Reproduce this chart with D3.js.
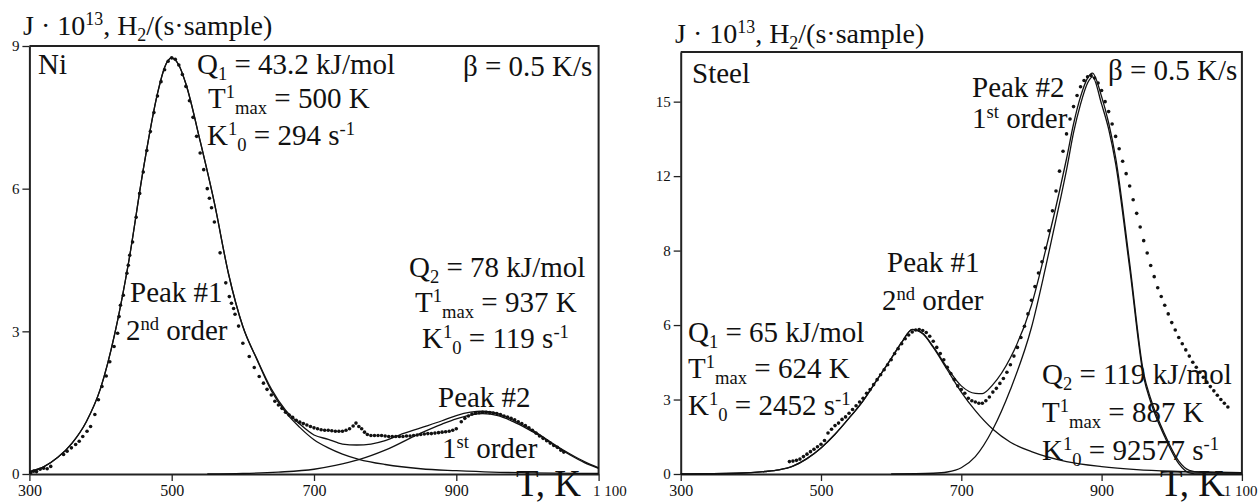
<!DOCTYPE html>
<html><head><meta charset="utf-8">
<script src="https://cdn.jsdelivr.net/npm/d3@7/dist/d3.min.js"></script>
<style>
body{margin:0;background:#fff}
svg{display:block}
</style>
</head><body><svg id="c" width="1258" height="503"></svg>
<script>
// ---------- data ----------
const xTicks = [300, 500, 700, 900, 1100];
const xTickLabels = ["300", "500", "700", "900", "1 100"];
const niYTicks = [0, 3, 6, 9];
const niYTickLabels = ["0", "3", "6", "9"];
const stYTicks = [0, 3, 6, 9, 12, 15];
const stYTickLabels = ["0", "3", "6", "8", "12", "15"];

// Ni panel: fitted peaks, their sum, experimental points  [T (K), J]
const niPeak1 = [[300,0.05],[320,0.15],[340,0.35],[360,0.65],[380,1.1],[400,1.8],[420,2.95],[440,4.5],[460,6.4],[480,8.0],[490,8.55],[500,8.75],[510,8.6],[520,8.2],[540,7.0],[560,5.7],[580,4.2],[600,3.1],[620,2.4],[640,1.75],[660,1.3],[680,0.98],[700,0.72],[720,0.55],[740,0.42],[763,0.31],[800,0.2],[850,0.11],[900,0.07],[950,0.04],[1000,0.025],[1100,0.01]];
const niPeak2 = [[550,0],[600,0.01],[650,0.04],[700,0.1],[730,0.18],[763,0.30],[800,0.5],[850,0.86],[880,1.05],[900,1.16],[920,1.24],[937,1.27],[960,1.22],[980,1.1],[1000,0.95],[1020,0.78],[1040,0.58],[1060,0.4],[1080,0.24],[1100,0.12]];
const niSum = [[300,0.05],[320,0.15],[340,0.35],[360,0.65],[380,1.1],[400,1.8],[420,2.95],[440,4.5],[460,6.4],[480,8.0],[490,8.55],[500,8.75],[510,8.6],[520,8.2],[540,7.0],[560,5.7],[580,4.2],[600,3.1],[620,2.41],[640,1.79],[660,1.34],[680,1.05],[700,0.82],[720,0.73],[740,0.63],[760,0.61],[780,0.63],[800,0.7],[820,0.82],[850,0.97],[880,1.12],[900,1.23],[920,1.3],[937,1.32],[960,1.26],[980,1.13],[1000,0.98],[1020,0.8],[1040,0.6],[1060,0.42],[1080,0.26],[1100,0.13]];
const niPoints = [[302,0.03],[306,0.06],[310,0.05],[315,0.1],[320,0.12],[325,0.11],[330,0.16],[348,0.41],[353,0.48],[359,0.55],[365,0.62],[370,0.69],[375,0.79],[381,0.9],[386,1.0],[392,1.25],[397,1.56],[402,1.84],[408,2.06],[413,2.36],[419,2.68],[424,2.96],[426,3.31],[428,3.55],[432,3.76],[437,4.22],[439,4.39],[441,4.6],[445,4.88],[450,5.4],[455,5.9],[460,6.35],[465,6.8],[470,7.2],[475,7.6],[480,7.95],[485,8.25],[490,8.5],[495,8.68],[500,8.75],[505,8.72],[510,8.6],[515,8.4],[520,8.15],[525,7.85],[530,7.5],[535,7.1],[540,6.75],[545,6.4],[550,6.0],[553,5.8],[556,5.6],[560,5.3],[568,4.65],[576,4.02],[581,3.73],[584,3.59],[587,3.48],[589,3.36],[594,3.11],[600,2.75],[609,2.47],[616,2.24],[623,2.05],[629,1.91],[634,1.78],[640,1.66],[645,1.53],[650,1.45],[655,1.38],[660,1.3],[665,1.24],[670,1.19],[675,1.13],[680,1.09],[685,1.06],[690,1.03],[695,1.0],[700,0.97],[705,0.95],[710,0.93],[715,0.92],[720,0.92],[725,0.91],[730,0.9],[735,0.9],[740,0.9],[745,0.92],[750,0.95],[755,1.01],[759,1.07],[763,1.0],[767,0.95],[771,0.88],[775,0.83],[780,0.81],[785,0.81],[790,0.81],[795,0.81],[800,0.8],[805,0.79],[810,0.79],[815,0.79],[820,0.79],[825,0.79],[830,0.8],[835,0.8],[840,0.81],[845,0.82],[850,0.83],[855,0.84],[860,0.85],[865,0.85],[870,0.86],[875,0.87],[880,0.88],[885,0.89],[890,0.9],[895,0.92],[900,0.95],[907,1.1],[912,1.17],[917,1.22],[922,1.26],[927,1.28],[932,1.29],[937,1.3],[942,1.3],[947,1.29],[952,1.28],[957,1.27],[962,1.25],[967,1.22],[972,1.2],[977,1.17],[982,1.14],[987,1.1],[992,1.06],[997,1.02],[1002,0.97],[1007,0.92],[1012,0.86],[1017,0.8],[1022,0.75],[1027,0.7],[1032,0.65],[1037,0.6],[1042,0.56],[1047,0.5],[1051,0.46]];

// Steel panel
const stPeak1 = [[300,0],[380,0.03],[420,0.1],[440,0.17],[460,0.32],[480,0.62],[500,1.05],[520,1.6],[540,2.25],[560,2.95],[580,3.8],[600,4.65],[615,5.3],[630,5.82],[645,5.65],[660,5.1],[680,4.2],[700,3.3],[720,2.55],[745,1.8],[770,1.28],[800,0.9],[850,0.5],[900,0.3],[950,0.18],[1000,0.11],[1100,0.05]];
const stPeak2 = [[600,0],[660,0.03],[680,0.08],[700,0.25],[720,0.7],[745,1.8],[770,3.4],[800,5.9],[820,8.3],[840,10.9],[850,12.25],[860,13.75],[870,14.9],[880,15.75],[887,16.0],[900,14.9],[910,13.9],[920,12.5],[940,8.3],[960,3.9],[970,2.9],[990,1.5],[1010,0.42],[1025,0.05],[1040,0],[1100,0]];
const stSum = [[300,0],[380,0.03],[420,0.1],[440,0.17],[460,0.32],[480,0.62],[500,1.05],[520,1.6],[540,2.25],[560,2.95],[580,3.8],[600,4.65],[615,5.3],[630,5.83],[645,5.67],[660,5.13],[680,4.28],[700,3.55],[720,3.25],[730,3.24],[745,3.6],[770,4.68],[800,6.8],[820,9.0],[840,11.4],[850,12.7],[860,14.1],[870,15.2],[880,15.95],[887,16.15],[900,15.2],[910,14.15],[920,12.75],[940,8.5],[960,4.05],[970,3.03],[990,1.6],[1010,0.52],[1025,0.15],[1040,0.08],[1100,0.05]];
const stPoints = [[455,0.5],[460,0.52],[465,0.55],[470,0.6],[475,0.7],[480,0.8],[485,0.9],[490,1.0],[495,1.1],[500,1.2],[505,1.35],[510,1.65],[515,1.8],[520,1.95],[525,2.05],[530,2.2],[535,2.3],[540,2.45],[545,2.6],[550,2.75],[555,2.9],[560,3.05],[565,3.25],[570,3.4],[575,3.6],[580,3.8],[585,4.0],[590,4.2],[595,4.4],[600,4.6],[605,4.85],[610,5.05],[615,5.25],[620,5.45],[625,5.6],[630,5.72],[635,5.8],[640,5.82],[645,5.78],[650,5.7],[655,5.55],[660,5.35],[665,5.1],[670,4.85],[675,4.6],[680,4.3],[685,4.05],[690,3.8],[695,3.55],[700,3.4],[705,3.25],[710,3.05],[715,2.95],[720,2.9],[725,2.85],[730,2.85],[735,2.95],[740,3.1],[745,3.3],[750,3.45],[755,3.65],[760,3.85],[765,4.1],[770,4.4],[775,4.75],[780,5.1],[785,5.5],[790,5.95],[795,6.45],[800,7.0],[805,7.55],[810,8.1],[815,8.55],[820,9.1],[825,9.8],[830,10.6],[835,11.4],[840,12.2],[845,13.0],[850,13.7],[855,14.3],[860,14.8],[865,15.25],[870,15.6],[875,15.85],[880,16.0],[885,16.05],[890,15.95],[895,15.75],[900,15.45],[905,15.0],[910,14.6],[915,14.1],[920,13.6],[925,13.1],[930,12.6],[935,12.1],[940,11.6],[945,11.05],[950,10.5],[955,9.95],[960,9.4],[965,8.9],[970,8.4],[975,7.95],[980,7.5],[985,7.15],[990,6.8],[995,6.45],[1000,6.1],[1005,5.8],[1010,5.5],[1015,5.25],[1020,5.0],[1025,4.75],[1030,4.5],[1035,4.3],[1040,4.1],[1045,3.9],[1050,3.7],[1055,3.52],[1060,3.35],[1065,3.17],[1070,3.0],[1075,2.85],[1080,2.7]];

// ---------- drawing ----------
const SERIF = '"Liberation Serif", "Times New Roman", Times, serif';
const svg = d3.select("#c");
const Y0 = 474;

function rich(g, x, y, parts, size, anchor) {
  const t = g.append("text").attr("x", x).attr("y", y)
    .attr("font-family", SERIF).attr("fill", "#111")
    .attr("font-size", size).attr("text-anchor", anchor || "start")
    .attr("xml:space", "preserve");
  let shift = 0;
  parts.forEach(p => {
    const s = typeof p === "string" ? p : p[0];
    const kind = typeof p === "string" ? null : p[1];
    const target = kind === "sup" ? -0.34 * size : kind === "sub" ? 0.2 * size : 0;
    const ts = t.append("tspan").text(s).attr("dy", (target - shift).toFixed(2))
      .attr("font-family", SERIF);
    if (kind) ts.attr("font-size", (size * 0.64).toFixed(1));
    shift = target;
  });
  return t;
}

function panel(cfg) {
  const x = d3.scaleLinear().domain([300, 1100]).range([cfg.x0, cfg.x1]);
  const y = d3.scaleLinear().domain([0, cfg.ymax]).range([Y0, cfg.yTop]);
  const g = svg.append("g");

  g.append("path")
    .attr("d", `M${cfg.x0},${cfg.yTop}H${cfg.x1}V${Y0}`)
    .attr("fill", "none").attr("stroke", "#222").attr("stroke-width", 2);

  const xa = g.append("g").attr("transform", `translate(0,${Y0})`)
    .call(d3.axisBottom(x).tickValues(xTicks).tickFormat((d, i) => xTickLabels[i]).tickSize(7).tickSizeOuter(0).tickPadding(4));
  const ya = g.append("g").attr("transform", `translate(${cfg.x0},0)`)
    .call(d3.axisLeft(y).tickValues(cfg.yTicks).tickFormat((d, i) => cfg.yLabels[i]).tickSize(7).tickSizeOuter(0).tickPadding(3));
  [xa, ya].forEach(a => {
    a.attr("font-family", SERIF);
    a.select(".domain").attr("stroke", "#222").attr("stroke-width", 2);
    a.selectAll(".tick line").attr("stroke", "#222").attr("stroke-width", 1.3);
    a.selectAll(".tick text").attr("font-family", SERIF).attr("fill", "#111");
  });
  xa.selectAll(".tick text").attr("font-size", 16);
  // the "1 100" label sits just right of its tick
  xa.selectAll(".tick text").filter(d => d === 1100)
    .attr("text-anchor", cfg.lastAnchor).attr("dx", cfg.lastDx).attr("font-size", 15);
  ya.selectAll(".tick text").attr("font-size", 15);

  const line = d3.line().x(d => x(d[0])).y(d => y(d[1])).curve(d3.curveMonotoneX);
  [cfg.p1, cfg.p2, cfg.sum].forEach(s => {
    g.append("path").datum(s).attr("d", line)
      .attr("fill", "none").attr("stroke", "#111").attr("stroke-width", 1.3);
  });
  g.append("g").selectAll("circle").data(cfg.pts).join("circle")
    .attr("cx", d => x(d[0])).attr("cy", d => y(d[1])).attr("r", 1.8).attr("fill", "#111");
  return g;
}

panel({x0: 29.4, x1: 598.6, yTop: 46, ymax: 9, yTicks: niYTicks, yLabels: niYTickLabels,
  p1: niPeak1, p2: niPeak2, sum: niSum, pts: niPoints, lastAnchor: "start", lastDx: -6});
panel({x0: 680.7, x1: 1241.9, yTop: 52, ymax: 17, yTicks: stYTicks, yLabels: stYTickLabels,
  p1: stPeak1, p2: stPeak2, sum: stSum, pts: stPoints, lastAnchor: "end", lastDx: 15});

const F = 29;
// axis titles
rich(svg, 23, 35, ["J · 10", ["13", "sup"], ", H", ["2", "sub"], "/(s·sample)"], 28);
rich(svg, 675, 43, ["J · 10", ["13", "sup"], ", H", ["2", "sub"], "/(s·sample)"], 28);
rich(svg, 516, 496, ["T, K"], 37);
rich(svg, 1160, 496, ["T, K"], 37);

// Ni annotations
rich(svg, 38, 74, ["Ni"], F);
rich(svg, 197, 74, ["Q", ["1", "sub"], " = 43.2 kJ/mol"], F);
rich(svg, 208, 108, ["T", ["1", "sup"], ["max", "sub"], " = 500 K"], F);
rich(svg, 207, 145, ["K", ["1", "sup"], ["0", "sub"], " = 294 s", ["-1", "sup"]], F);
rich(svg, 463, 76, ["β = 0.5 K/s"], F);
rich(svg, 130, 302, ["Peak #1"], F);
rich(svg, 126, 340, ["2", ["nd", "sup"], " order"], F);
rich(svg, 409, 277, ["Q", ["2", "sub"], " = 78 kJ/mol"], F);
rich(svg, 415, 312, ["T", ["1", "sup"], ["max", "sub"], " = 937 K"], F);
rich(svg, 422, 348, ["K", ["1", "sup"], ["0", "sub"], " = 119 s", ["-1", "sup"]], F);
rich(svg, 438, 407, ["Peak #2"], F);
rich(svg, 442, 458, ["1", ["st", "sup"], " order"], F);

// Steel annotations
rich(svg, 692, 83, ["Steel"], F);
rich(svg, 972, 97, ["Peak #2"], F);
rich(svg, 972, 128, ["1", ["st", "sup"], " order"], F);
rich(svg, 1108, 80, ["β = 0.5 K/s"], F);
rich(svg, 887, 272, ["Peak #1"], F);
rich(svg, 882, 310, ["2", ["nd", "sup"], " order"], F);
rich(svg, 688, 342, ["Q", ["1", "sub"], " = 65 kJ/mol"], F);
rich(svg, 688, 378, ["T", ["1", "sup"], ["max", "sub"], " = 624 K"], F);
rich(svg, 688, 415, ["K", ["1", "sup"], ["0", "sub"], " = 2452 s", ["-1", "sup"]], F);
rich(svg, 1042, 384, ["Q", ["2", "sub"], " = 119 kJ/mol"], F);
rich(svg, 1042, 422, ["T", ["1", "sup"], ["max", "sub"], " = 887 K"], F);
rich(svg, 1042, 460, ["K", ["1", "sup"], ["0", "sub"], " = 92577 s", ["-1", "sup"]], F);
</script></body></html>
